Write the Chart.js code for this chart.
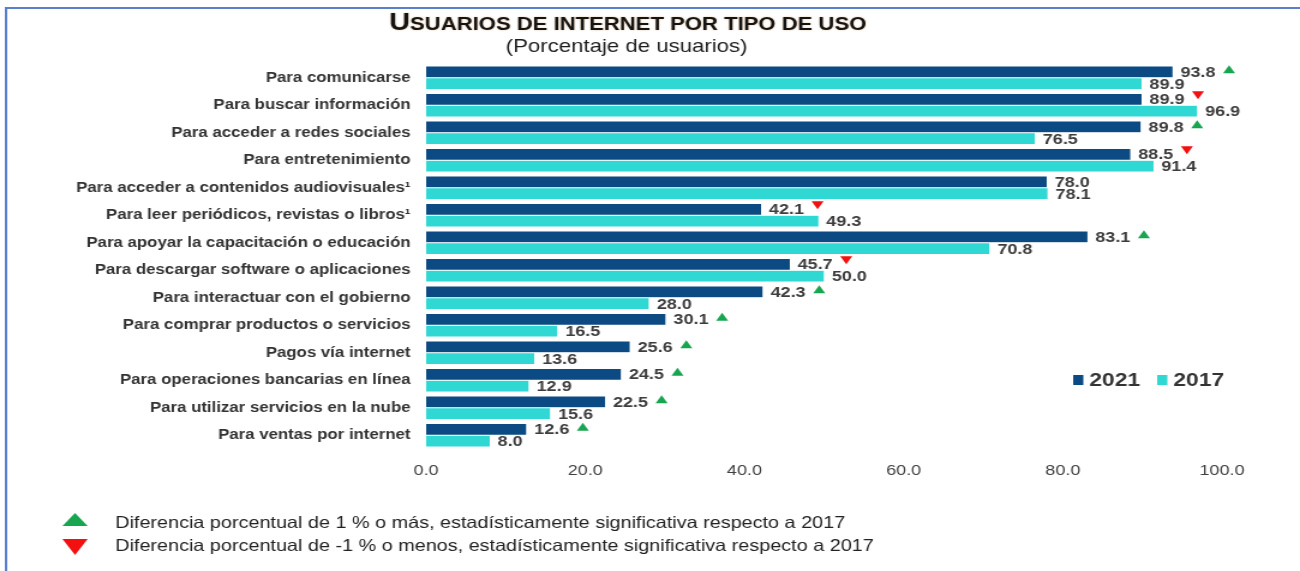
<!DOCTYPE html>
<html>
<head>
<meta charset="utf-8">
<script src="https://cdn.jsdelivr.net/npm/chart.js@4.4.1/dist/chart.umd.min.js"></script>
<style>
  html, body { margin: 0; padding: 0; background: #ffffff; }
  #chart { display: block; width: 1300px; height: 571px; }
</style>
</head>
<body>
<canvas id="chart" width="1083" height="571" style="width:1300px;height:571px"></canvas>
<script>
// Data
const categories = [
    'Para comunicarse',
    'Para buscar información',
    'Para acceder a redes sociales',
    'Para entretenimiento',
    'Para acceder a contenidos audiovisuales¹',
    'Para leer periódicos, revistas o libros¹',
    'Para apoyar la capacitación o educación',
    'Para descargar software o aplicaciones',
    'Para interactuar con el gobierno',
    'Para comprar productos o servicios',
    'Pagos vía internet',
    'Para operaciones bancarias en línea',
    'Para utilizar servicios en la nube',
    'Para ventas por internet'
];
const values2021 = [93.8, 89.9, 89.8, 88.5, 78.0, 42.1, 83.1, 45.7, 42.3, 30.1, 25.6, 24.5, 22.5, 12.6];
const values2017 = [89.9, 96.9, 76.5, 91.4, 78.1, 49.3, 70.8, 50.0, 28.0, 16.5, 13.6, 12.9, 15.6, 8.0];
// significant change vs 2017: 'up', 'down' or ''
const change2021 = ['up', 'down', 'up', 'down', '', 'down', 'up', 'down', 'up', 'up', 'up', 'up', 'up', 'up'];
const xTicks = [0, 20, 40, 60, 80, 100];
const seriesLabels = ['2021', '2017'];

const titleText = 'USUARIOS DE INTERNET POR TIPO DE USO';
const subtitleText = '(Porcentaje de usuarios)';
const noteUp = 'Diferencia porcentual de 1 % o más, estadísticamente significativa respecto a 2017';
const noteDown = 'Diferencia porcentual de -1 % o menos, estadísticamente significativa respecto a 2017';

const DARK = '#0b4a82';
const LIGHT = '#2fd8d3';
const GREEN = '#17a550';
const RED = '#f21010';
const FONT = '"Liberation Sans", Arial, sans-serif';

function triangle(ctx, cx, cy, w, h, dir, color) {
    ctx.fillStyle = color;
    ctx.beginPath();
    if (dir === 'up') {
        ctx.moveTo(cx - w / 2, cy + h / 2);
        ctx.lineTo(cx + w / 2, cy + h / 2);
        ctx.lineTo(cx, cy - h / 2);
    } else {
        ctx.moveTo(cx - w / 2, cy - h / 2);
        ctx.lineTo(cx + w / 2, cy - h / 2);
        ctx.lineTo(cx, cy + h / 2);
    }
    ctx.closePath();
    ctx.fill();
}

// title in small caps: only the very first letter is full size
function smallCaps(ctx, text, cx, baseline, big, small) {
    const parts = [
        [text[0], 'bold ' + big + 'px ' + FONT],
        [text.slice(1), 'bold ' + small + 'px ' + FONT]
    ];
    let total = 0;
    parts.forEach(p => { ctx.font = p[1]; total += ctx.measureText(p[0]).width; });
    let x = cx - total / 2;
    ctx.textAlign = 'left';
    ctx.textBaseline = 'alphabetic';
    parts.forEach(p => {
        ctx.font = p[1];
        ctx.fillText(p[0], x, baseline);
        x += ctx.measureText(p[0]).width;
    });
}

const decorations = {
    id: 'decorations',
    afterDatasetsDraw(chart) {
        const ctx = chart.ctx;
        ctx.save();
        // value labels
        ctx.font = 'bold 15px ' + FONT;
        ctx.fillStyle = '#3d3d3d';
        ctx.textAlign = 'left';
        ctx.textBaseline = 'middle';
        chart.data.datasets.forEach((ds, i) => {
            chart.getDatasetMeta(i).data.forEach((bar, j) => {
                ctx.fillText(ds.data[j].toFixed(1), bar.x + 6.5, bar.y + 1);
            });
        });
        // significance markers next to 2021 values
        chart.getDatasetMeta(0).data.forEach((bar, j) => {
            const dir = change2021[j];
            if (dir === 'up') triangle(ctx, bar.x + 47, bar.y - 2.5, 10, 8, 'up', GREEN);
            if (dir === 'down') triangle(ctx, bar.x + 47, bar.y - 4, 10, 8, 'down', RED);
        });
        ctx.restore();
    },
    afterDraw(chart) {
        const ctx = chart.ctx;
        ctx.save();

        // frame
        ctx.strokeStyle = '#5a7fcc';
        ctx.lineWidth = 2;
        ctx.beginPath();
        ctx.moveTo(chart.width, 8);
        ctx.lineTo(5, 8);
        ctx.lineTo(5, chart.height);
        ctx.stroke();

        // title + subtitle
        ctx.fillStyle = '#141414';
        ctx.shadowColor = 'rgba(190, 110, 20, 0.45)';
        ctx.shadowBlur = 2;
        smallCaps(ctx, titleText, 523, 30, 24, 18.4);
        ctx.shadowBlur = 0;
        ctx.font = '18.5px ' + FONT;
        ctx.fillStyle = '#1e1e1e';
        ctx.textAlign = 'center';
        ctx.fillText(subtitleText, 522, 52);

        // legend
        ctx.font = 'bold 19px ' + FONT;
        ctx.textAlign = 'left';
        ctx.textBaseline = 'alphabetic';
        const legendX = [894, 964];
        chart.data.datasets.forEach((ds, i) => {
            ctx.fillStyle = ds.backgroundColor;
            ctx.fillRect(legendX[i], 375, 8.5, 10);
            ctx.fillStyle = '#333333';
            ctx.fillText(ds.label, legendX[i] + 13.5, 385.5);
        });

        // notes
        triangle(ctx, 62.5, 519.5, 21, 13, 'up', GREEN);
        triangle(ctx, 62.5, 547, 21, 16, 'down', RED);
        ctx.font = '16.5px ' + FONT;
        ctx.fillStyle = '#222222';
        ctx.fillText(noteUp, 96, 528);
        ctx.fillText(noteDown, 96, 551);

        ctx.restore();
    }
};

new Chart(document.getElementById('chart'), {
    type: 'bar',
    data: {
        labels: categories,
        datasets: [
            { label: seriesLabels[0], data: values2021, backgroundColor: DARK, borderColor: '#ffffff', borderWidth: { top: 0.5, bottom: 0.5 } },
            { label: seriesLabels[1], data: values2017, backgroundColor: LIGHT, borderColor: '#ffffff', borderWidth: { top: 0.5, bottom: 0.5 } }
        ]
    },
    options: {
        indexAxis: 'y',
        responsive: false,
        animation: false,
        devicePixelRatio: 1,
        categoryPercentage: 0.86,
        barPercentage: 1.0,
        layout: { padding: { top: 64, right: 65, left: 0, bottom: 0 } },
        plugins: {
            legend: { display: false },
            tooltip: { enabled: false }
        },
        scales: {
            y: {
                grid: { display: false, drawTicks: false },
                border: { display: false },
                ticks: {
                    color: '#333333',
                    padding: 13,
                    font: { family: FONT, size: 14, weight: 'bold' }
                },
                afterFit: scale => { scale.width = 355; }
            },
            x: {
                min: xTicks[0],
                max: xTicks[xTicks.length - 1],
                grid: { display: false, drawTicks: false },
                border: { display: false },
                afterBuildTicks: scale => { scale.ticks = xTicks.map(v => ({ value: v })); },
                ticks: {
                    color: '#404040',
                    padding: 13,
                    font: { family: FONT, size: 15 },
                    callback: v => Number(v).toFixed(1)
                },
                afterFit: scale => { scale.height = 122; }
            }
        }
    },
    plugins: [decorations]
});
</script>
</body>
</html>
